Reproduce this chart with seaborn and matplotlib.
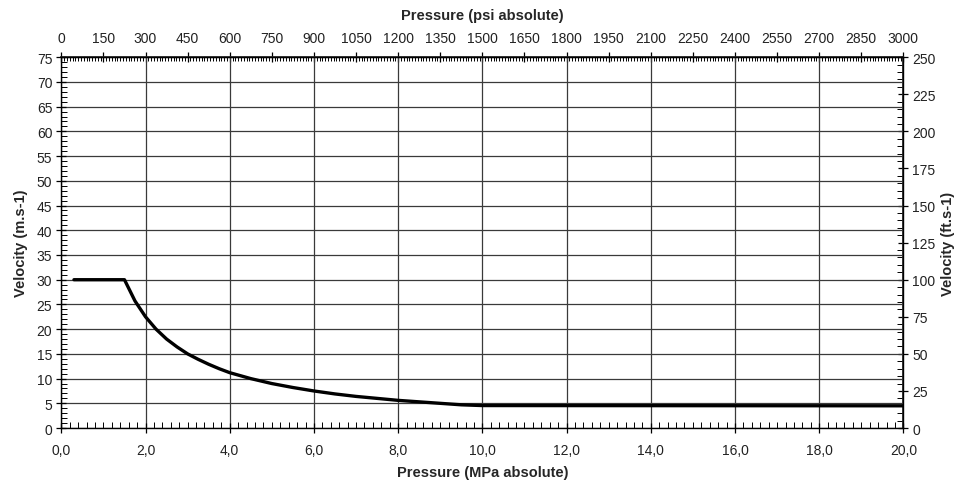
import matplotlib
matplotlib.use("Agg")
import matplotlib.pyplot as plt
import seaborn as sns
import pandas as pd
from matplotlib.ticker import MultipleLocator, FuncFormatter, FixedLocator

pressure_mpa = [0.3, 1.5, 1.75, 2.0, 2.25, 2.5, 2.75, 3.0, 3.25, 3.5, 3.75, 4.0, 4.5, 5.0,
                5.5, 6.0, 6.5, 7.0, 7.5, 8.0, 8.5, 9.0, 9.5, 10.0, 20.0]
velocity_ms = [30, 30, 25.7, 22.5, 20.0, 18.0, 16.4, 15.0, 13.9, 12.9, 12.0, 11.2, 10.0, 9.0,
               8.2, 7.5, 6.9, 6.4, 6.0, 5.6, 5.3, 5.0, 4.7, 4.55, 4.5]
psi_ticks = list(range(0, 3001, 150))
fts_ticks = list(range(0, 251, 25))

df = pd.DataFrame({"p": pressure_mpa, "v": velocity_ms})

sns.set_theme(style="white")
plt.rcParams['font.family'] = ['Liberation Sans', 'DejaVu Sans']

fig = plt.figure(figsize=(9.58, 4.81), dpi=100)
ax = fig.add_axes([0.064, 0.108, 0.879, 0.771])

sns.lineplot(data=df, x="p", y="v", ax=ax, color="black", linewidth=2.4, zorder=5)
ax.lines[0].set_solid_joinstyle("round")

ax.set_xlim(0, 20)
ax.set_ylim(0, 75)
ax.xaxis.set_major_locator(MultipleLocator(2))
ax.xaxis.set_minor_locator(MultipleLocator(0.2))
ax.yaxis.set_major_locator(MultipleLocator(5))
ax.yaxis.set_minor_locator(MultipleLocator(1))
ax.xaxis.set_major_formatter(FuncFormatter(lambda x, p: f"{x:.1f}".replace(".", ",")))
ax.grid(True, which="major", color="#3a3a3a", linewidth=0.9)
for s in ax.spines.values():
    s.set_color("black")
    s.set_linewidth(1.0)

FS = 10
LFS = 10.5
ax.tick_params(axis="both", which="major", direction="inout", length=7, width=0.9,
               color="black", labelsize=FS, labelcolor="#222222", pad=3)
ax.tick_params(axis="x", which="major", pad=7)
ax.tick_params(axis="both", which="minor", direction="in", length=4, width=0.7, color="black")
ax.tick_params(axis="x", which="both", bottom=True)
ax.tick_params(axis="y", which="both", left=True)

ax.set_xlabel("Pressure (MPa absolute)", fontsize=LFS, fontweight="bold", labelpad=6)
ax.set_ylabel("Velocity (m.s-1)", fontsize=LFS, fontweight="bold", labelpad=6)

top = ax.secondary_xaxis("top", functions=(lambda x: x * 150.0, lambda p: p / 150.0))
top.xaxis.set_major_locator(FixedLocator(psi_ticks))
top.xaxis.set_minor_locator(FixedLocator(list(range(0, 3001, 10))))
top.tick_params(which="major", direction="inout", length=7, width=0.9, color="black",
                labelsize=FS, labelcolor="#222222", pad=5)
top.tick_params(which="minor", direction="in", length=3, width=0.7, color="black")
top.set_xlabel("Pressure (psi absolute)", fontsize=LFS, fontweight="bold", labelpad=9)

right = ax.secondary_yaxis("right", functions=(lambda v: v * 10.0 / 3.0, lambda f: f * 3.0 / 10.0))
right.yaxis.set_major_locator(FixedLocator(fts_ticks))
right.yaxis.set_minor_locator(FixedLocator(list(range(0, 251, 5))))
right.tick_params(which="major", direction="inout", length=7, width=0.9, color="black",
                  labelsize=FS, labelcolor="#222222", pad=3)
right.tick_params(which="minor", direction="in", length=4, width=0.7, color="black")
right.set_ylabel("Velocity (ft.s-1)", fontsize=LFS, fontweight="bold", labelpad=4)

fig.savefig("out.png", dpi=100)
